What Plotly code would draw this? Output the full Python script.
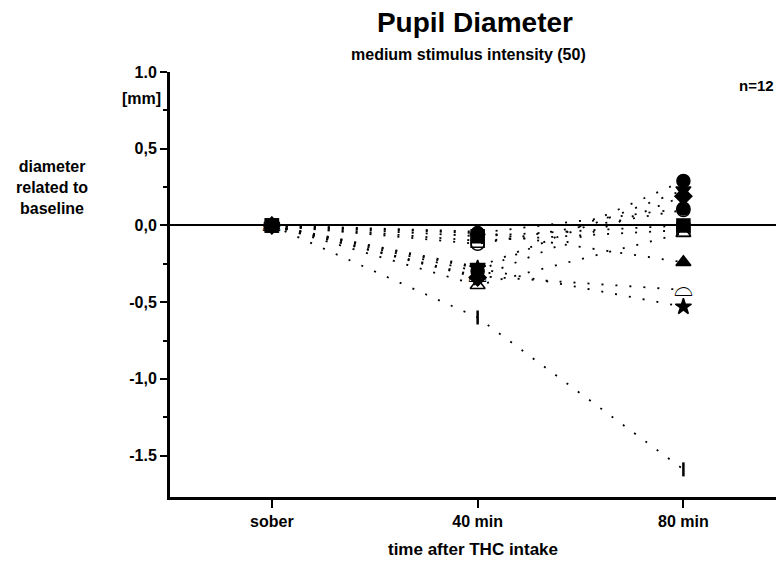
import plotly.graph_objects as go

# time points
times = ["sober", "40 min", "80 min"]

# change of pupil diameter relative to baseline [mm], one list per subject
subj_circle = [0.0, -0.30, 0.29]
subj_tri_down = [0.0, -0.27, 0.23]
subj_circle_b = [0.0, -0.05, 0.11]
subj_circle_c = [0.0, -0.12, 0.10]
subj_square_open = [0.0, -0.10, -0.03]
subj_tri_open = [0.0, -0.39, -0.05]
subj_square = [0.0, -0.07, 0.00]
subj_tri_up = [0.0, -0.04, -0.24]
subj_half = [0.0, -0.33, -0.42]
subj_star = [0.0, -0.28, -0.53]
subj_diamond = [0.0, -0.34, 0.19]
subj_bar = [0.0, -0.60, -1.59]

subjects = [
    (subj_circle, "circle"),
    (subj_tri_down, "triangle-down"),
    (subj_circle_b, "circle"),
    (subj_circle_c, "circle-open"),
    (subj_square_open, "square-open"),
    (subj_tri_open, "triangle-up-open"),
    (subj_square, "square"),
    (subj_tri_up, "triangle-up"),
    (subj_half, None),
    (subj_star, "star"),
    (subj_diamond, "diamond"),
    (subj_bar, "line-ns"),
]

y_ticks = [1.0, 0.5, 0.0, -0.5, -1.0, -1.5]
y_ticktext = ["1.0", "0,5", "0,0", "-0,5", "-1,0", "-1.5"]

FONT = "Liberation Sans, Arial, sans-serif"

fig = go.Figure()
for values, symbol in subjects:
    fig.add_trace(go.Scatter(
        x=times, y=values, mode="lines",
        line=dict(color="black", width=1.8, dash="2px,12px"),
        showlegend=False, hoverinfo="skip",
    ))
for values, symbol in subjects:
    if symbol is None:
        # half circle marker
        fig.add_trace(go.Scatter(
            x=times, y=values, mode="text", text=["⌓"] * len(values),
            textfont=dict(family="DejaVu Sans", size=24, color="black"),
            showlegend=False,
        ))
        continue
    size = 13
    if symbol == "line-ns":
        size = 10
    if symbol == "star":
        size = 12
    fig.add_trace(go.Scatter(
        x=times, y=values, mode="markers",
        marker=dict(symbol=symbol, size=size, color="black",
                    line=dict(color="black", width=2.5 if symbol == "line-ns" else 1.5)),
        showlegend=False,
    ))

fig.update_xaxes(
    type="category", range=[-0.495, 2.45],
    showline=True, linecolor="black", linewidth=3,
    ticks="outside", ticklen=8, tickwidth=2, tickcolor="black",
    showgrid=False, zeroline=False,
    tickfont=dict(family=FONT, size=16, color="black"),
    ticktext=["<b>sober</b>", "<b>40 min</b>", "<b>80 min</b>"], tickvals=times,
    title=dict(text="<b>time after THC intake</b>", font=dict(family=FONT, size=17, color="black"),
               standoff=14),
)
fig.update_yaxes(
    range=[-1.77, 1.0],
    showline=True, linecolor="black", linewidth=3,
    ticks="outside", ticklen=7, tickwidth=2, tickcolor="black",
    tickvals=y_ticks, ticktext=[f"<b>{t}</b>" for t in y_ticktext],
    tickfont=dict(family=FONT, size=16, color="black"),
    minor=dict(tickvals=[0.75, 0.25, -0.25, -0.75, -1.25], ticks="outside",
               ticklen=4, tickwidth=2, tickcolor="black"),
    showgrid=False, zeroline=True, zerolinecolor="black", zerolinewidth=1.5,
)

fig.update_layout(
    width=776, height=565,
    margin=dict(l=170, r=0, t=72, b=68),
    paper_bgcolor="white", plot_bgcolor="white",
    font=dict(family=FONT, color="black"),
    title=dict(text="<b>Pupil Diameter</b>", x=0.612, xanchor="center", y=0.961,
               yanchor="middle", font=dict(family=FONT, size=28, color="black")),
    annotations=[
        dict(text="<b>medium stimulus intensity (50)</b>", xref="paper", yref="paper",
             x=0.492, y=1.04, xanchor="center", yanchor="middle", showarrow=False,
             font=dict(family=FONT, size=16, color="black")),
        dict(text="<b>n=12</b>", xref="paper", yref="paper", x=1.0, y=0.969,
             xanchor="right", yanchor="middle", showarrow=False,
             font=dict(family=FONT, size=15, color="black")),
        dict(text="<b>[mm]</b>", xref="paper", yref="y", x=-0.012, y=0.83,
             xanchor="right", yanchor="middle", showarrow=False,
             font=dict(family=FONT, size=16, color="black")),
        dict(text="<b>diameter<br>related to<br>baseline</b>", xref="paper", yref="y",
             x=-0.195, y=0.25, xanchor="center", yanchor="middle", showarrow=False,
             align="center", font=dict(family=FONT, size=16, color="black")),
    ],
)

fig.write_html("out.html", config={"displayModeBar": False},
               post_script="document.body.style.margin='0';")
